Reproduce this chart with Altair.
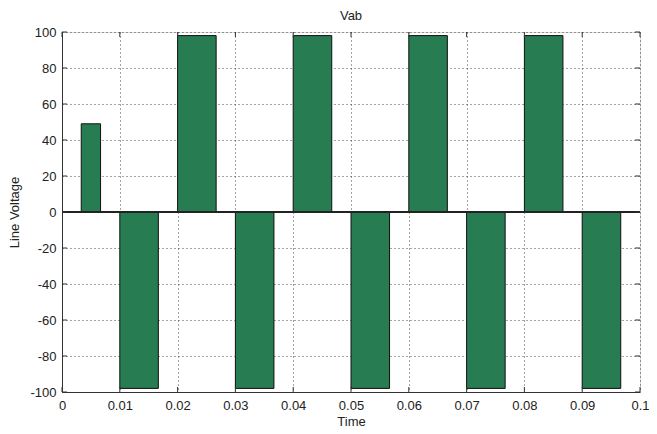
import altair as alt
import pandas as pd

# bar intervals (time) and line voltage values
t_start = [0.00333, 0.01, 0.02, 0.03, 0.04, 0.05, 0.06, 0.07, 0.08, 0.09]
t_end = [0.00667, 0.01667, 0.02667, 0.03667, 0.04667, 0.05667, 0.06667, 0.07667, 0.08667, 0.09667]
voltage = [49, -98, 98, -98, 98, -98, 98, -98, 98, -98]

x_ticks = [0, 0.01, 0.02, 0.03, 0.04, 0.05, 0.06, 0.07, 0.08, 0.09, 0.1]
y_ticks = [-100, -80, -60, -40, -20, 0, 20, 40, 60, 80, 100]

df = pd.DataFrame({"t0": t_start, "t1": t_end, "v": voltage, "zero": [0] * len(voltage)})
xt = pd.DataFrame({"x": x_ticks})
yt = pd.DataFrame({"y": y_ticks})

W, H = 578, 360
FONT = "Liberation Sans"
xscale = alt.Scale(domain=[0, 0.1], nice=False, zero=False)
yscale = alt.Scale(domain=[-100, 100], nice=False)

xaxis = alt.Axis(values=x_ticks, title="Time", labelExpr="toString(datum.value)",
                 grid=True, gridDash=[1, 3], gridColor="#333", gridOpacity=0.9,
                 tickSize=0, labelPadding=7, labelFontSize=13, titleFontSize=13,
                 titleFontWeight="normal", labelFont=FONT, titleFont=FONT,
                 labelColor="#222", titleColor="#222", domainColor="#333",
                 titlePadding=3, labelFlush=False, labelOverlap=False)
yaxis = alt.Axis(values=y_ticks, title="Line Voltage", labelExpr="toString(datum.value)",
                 grid=True, gridDash=[1, 3], gridColor="#333", gridOpacity=0.9,
                 tickSize=0, labelPadding=6, labelFontSize=13, titleFontSize=13,
                 titleFontWeight="normal", labelFont=FONT, titleFont=FONT,
                 labelColor="#222", titleColor="#222", domainColor="#333",
                 titlePadding=8, labelOverlap=False, labelFlush=False)

bars = alt.Chart(df).mark_rect(color="#277C52", stroke="#111", strokeWidth=1).encode(
    x=alt.X("t0:Q", scale=xscale, axis=xaxis),
    x2="t1:Q",
    y=alt.Y("zero:Q", scale=yscale, axis=yaxis),
    y2="v:Q",
)

zero_line = alt.Chart(df).mark_rule(color="#222", strokeWidth=1).encode(
    y=alt.Y("zero:Q", scale=yscale, axis=yaxis), x=alt.value(0), x2=alt.value(W)
)

tick_len = 5
bot_ticks = alt.Chart(xt).mark_rule(color="#333").encode(
    x=alt.X("x:Q", scale=xscale, axis=xaxis), y=alt.value(H), y2=alt.value(H - tick_len))
top_ticks = alt.Chart(xt).mark_rule(color="#333").encode(
    x=alt.X("x:Q", scale=xscale, axis=xaxis), y=alt.value(0), y2=alt.value(tick_len))
left_ticks = alt.Chart(yt).mark_rule(color="#333").encode(
    y=alt.Y("y:Q", scale=yscale, axis=yaxis), x=alt.value(0), x2=alt.value(tick_len))
right_ticks = alt.Chart(yt).mark_rule(color="#333").encode(
    y=alt.Y("y:Q", scale=yscale, axis=yaxis), x=alt.value(W), x2=alt.value(W - tick_len))

chart = alt.layer(bars, zero_line, bot_ticks, top_ticks, left_ticks, right_ticks).properties(
    width=W, height=H,
    title=alt.TitleParams("Vab", fontSize=13, fontWeight="normal", font=FONT, color="#222", offset=3),
    autosize=alt.AutoSizeParams(type="none"),
    padding={"left": 54, "top": 24, "right": 9, "bottom": 36},
).configure_view(stroke="#333", strokeWidth=1).configure(background="white")

chart.save("out.html", embed_options={"renderer": "svg", "actions": False})
